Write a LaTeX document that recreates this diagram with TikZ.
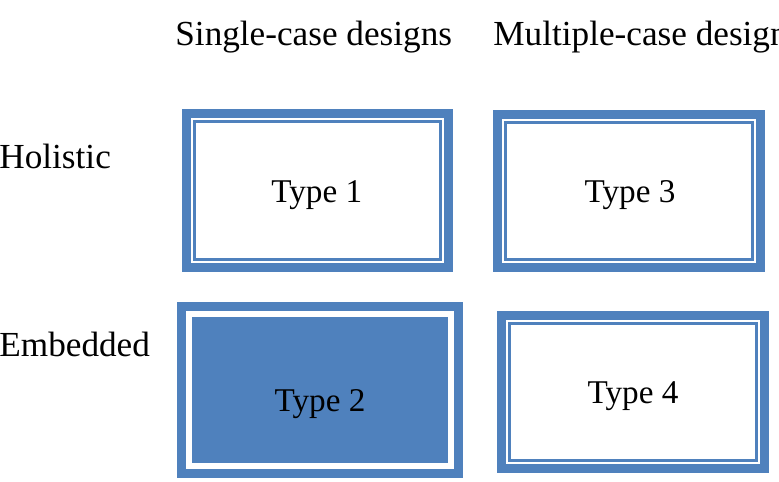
\documentclass[tikz,border=0pt]{standalone}
\usepackage{fontspec}
\setmainfont{Liberation Serif}
\usepackage{xcolor}
\usetikzlibrary{positioning}
\definecolor{caseblue}{RGB}{79,129,189}

\begin{document}
\begin{tikzpicture}[x=0.5pt, y=0.5pt,
  heading/.style={font=\fontsize{17.6}{21}\selectfont, inner sep=0pt, anchor=base west},
  typelabel/.style={font=\fontsize{16.6}{19}\selectfont, inner sep=0pt, anchor=base},
  framebox/.style={draw=caseblue, line width=4.5pt, outer sep=0pt, inner sep=0pt},
  thinframe/.style={draw=caseblue, line width=1.3pt}]
  \useasboundingbox (0,0) rectangle (779,481);
  % column and row headings
  \node[heading] (single) at (175,435) {Single-case designs};
  \node[heading] (multiple) at (493,435) {Multiple-case designs};
  \node[heading] (holistic) at (-1,312) {Holistic};
  \node[heading] (embedded) at (-1,125) {Embedded};
  % the four design types
  \node[framebox, minimum width=131pt, minimum height=77pt] (t1) at (317.5,290.5) {};
  \draw[thinframe] ([shift={(8,8)}]t1.south west) rectangle ([shift={(-8,-8)}]t1.north east);
  \node[framebox, minimum width=138.5pt, minimum height=83pt] (t2) at (319.5,91) {};
  \fill[caseblue] ([shift={(10.5,10.5)}]t2.south west) rectangle ([shift={(-10.5,-10.5)}]t2.north east);
  \node[framebox, minimum width=131.5pt, minimum height=76.5pt] (t3) at (629,290) {};
  \draw[thinframe] ([shift={(8,8)}]t3.south west) rectangle ([shift={(-8,-8)}]t3.north east);
  \node[framebox, minimum width=131.5pt, minimum height=76.5pt] (t4) at (633,89) {};
  \draw[thinframe] ([shift={(8,8)}]t4.south west) rectangle ([shift={(-8,-8)}]t4.north east);
  \node[typelabel] (l1) at (316.7,278) {Type 1};
  \node[typelabel] (l2) at (320,69.3) {Type 2};
  \node[typelabel] (l3) at (630,278) {Type 3};
  \node[typelabel] (l4) at (633,78) {Type 4};
\end{tikzpicture}
\end{document}
